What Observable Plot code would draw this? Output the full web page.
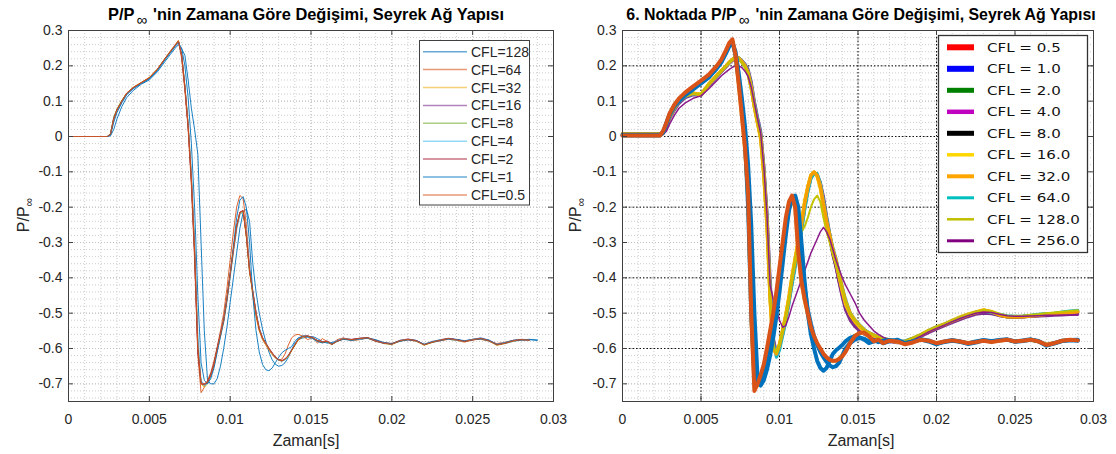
<!DOCTYPE html>
<html><head><meta charset="utf-8">
<script src="https://cdn.jsdelivr.net/npm/d3@7"></script>
<script src="https://cdn.jsdelivr.net/npm/@observablehq/plot@0.6"></script>
<style>
body{margin:0;background:#fff;}
#wrap{position:relative;width:1116px;height:454px;overflow:hidden;background:#fff;}
#left{position:absolute;left:0;top:0;width:560px;height:454px;z-index:2;}
#right{position:absolute;left:560px;top:0;width:556px;height:454px;z-index:1;}
#left svg,#right svg{overflow:visible;}
</style></head>
<body><div id="wrap"><div id="left"></div><div id="right"></div></div>
<script>
// ---------- time grid (s) ----------
const tGrid = [0,0.0024,0.0026,0.0028,0.003,0.0033,0.0036,0.004,0.0045,0.005,0.0055,0.006,0.0063,0.0066,0.0068,
0.007,0.0072,0.0074,0.0076,0.0078,0.008,0.0082,0.0084,0.0086,0.0088,
0.009,0.0092,0.0094,0.0096,0.0098,0.01,0.0102,0.0104,0.0106,0.0108,
0.011,0.0112,0.0114,0.0116,0.0118,0.012,0.0122,0.0124,0.0126,0.0128,
0.013,0.0132,0.0134,0.0136,0.0138,0.014,0.0142,
0.0145,0.0148,0.0151,0.0154,0.0157,0.016,0.0163,0.0166,
0.017,0.0175,0.018,0.0185,0.019,0.0195,0.02,0.0205,0.021,0.0215,0.022,0.0225,0.023,0.0235,0.024,0.0245,0.025,0.0255,0.026,0.0265,0.027,0.0275,0.028,0.0285,0.029];

// ---------- left panel series ----------
const pL128 = [0,0,0.002,0.02,0.05,0.085,0.11,0.13,0.148,0.16,0.183,0.214,0.232,0.25,0.26,
0.248,0.23,0.16,0.08,0.02,-0.05,-0.3,-0.55,-0.69,-0.70,
-0.70,-0.685,-0.65,-0.6,-0.54,-0.47,-0.4,-0.33,-0.26,-0.215,
-0.205,-0.24,-0.36,-0.44,-0.5,-0.545,-0.58,-0.61,-0.632,-0.645,
-0.65,-0.648,-0.64,-0.625,-0.605,-0.585,-0.575,
-0.57,-0.568,-0.566,-0.572,-0.58,-0.585,-0.583,-0.578,
-0.572,-0.576,-0.574,-0.57,-0.575,-0.583,-0.586,-0.58,-0.575,-0.577,-0.588,-0.583,-0.578,-0.572,-0.574,-0.578,-0.574,-0.57,-0.576,-0.588,-0.586,-0.58,-0.576,-0.575,-0.577];
const pL64 = [0,0,0.007,0.052,0.077,0.102,0.123,0.139,0.153,0.167,0.191,0.223,0.242,0.26,0.272,
0.22,0.13,0.02,-0.14,-0.35,-0.62,-0.725,-0.71,-0.69,-0.668,
-0.635,-0.595,-0.55,-0.5,-0.43,-0.35,-0.27,-0.2,-0.167,-0.175,
-0.25,-0.37,-0.45,-0.51,-0.55,-0.575,-0.59,-0.605,-0.617,-0.627,
-0.633,-0.63,-0.615,-0.59,-0.57,-0.562,-0.56,
-0.565,-0.575,-0.568,-0.585,-0.572,-0.58,-0.59,-0.575,
-0.57,-0.578,-0.575,-0.57,-0.58,-0.584,-0.586,-0.577,-0.575,-0.58,-0.588,-0.58,-0.578,-0.574,-0.577,-0.582,-0.575,-0.574,-0.579,-0.586,-0.582,-0.577,-0.576,-0.575,null];
const pL32 = [0,0,0.007,0.052,0.077,0.101,0.123,0.139,0.153,0.167,0.191,0.223,0.241,0.259,0.271,
0.232,0.142,0.035,-0.11,-0.31,-0.58,-0.7,-0.71,-0.7,-0.678,
-0.648,-0.605,-0.565,-0.525,-0.465,-0.395,-0.325,-0.26,-0.22,-0.213,
-0.285,-0.385,-0.445,-0.505,-0.548,-0.572,-0.588,-0.603,-0.616,-0.627,
-0.633,-0.636,-0.632,-0.622,-0.607,-0.592,-0.577,
-0.567,-0.566,-0.571,-0.579,-0.583,-0.582,-0.589,-0.58,
-0.573,-0.576,-0.573,-0.571,-0.579,-0.586,-0.589,-0.579,-0.575,-0.579,-0.591,-0.583,-0.577,-0.573,-0.577,-0.581,-0.576,-0.573,-0.579,-0.591,-0.586,-0.579,-0.576,-0.577,null];
const pL16 = [0,0,0.008,0.053,0.076,0.1,0.121,0.137,0.151,0.165,0.189,0.221,0.239,0.257,0.269,
0.228,0.138,0.028,-0.125,-0.335,-0.61,-0.695,-0.7,-0.694,-0.673,
-0.643,-0.598,-0.558,-0.518,-0.458,-0.388,-0.318,-0.253,-0.214,-0.209,
-0.278,-0.378,-0.438,-0.498,-0.543,-0.569,-0.584,-0.599,-0.612,-0.624,
-0.631,-0.634,-0.629,-0.619,-0.604,-0.589,-0.574,
-0.565,-0.564,-0.569,-0.577,-0.581,-0.579,-0.587,-0.579,
-0.571,-0.574,-0.571,-0.569,-0.577,-0.584,-0.587,-0.577,-0.573,-0.577,-0.589,-0.581,-0.575,-0.571,-0.575,-0.579,-0.574,-0.571,-0.577,-0.589,-0.584,-0.577,-0.574,-0.575,null];
const pL8 = [0,0,0.009,0.055,0.078,0.102,0.122,0.138,0.152,0.166,0.19,0.222,0.24,0.258,0.27,
0.231,0.141,0.032,-0.118,-0.325,-0.59,-0.698,-0.705,-0.697,-0.676,
-0.646,-0.602,-0.562,-0.522,-0.462,-0.392,-0.322,-0.257,-0.217,-0.211,
-0.282,-0.382,-0.442,-0.502,-0.546,-0.571,-0.586,-0.601,-0.614,-0.626,
-0.632,-0.635,-0.631,-0.621,-0.606,-0.591,-0.576,
-0.566,-0.565,-0.57,-0.578,-0.582,-0.581,-0.588,-0.58,
-0.572,-0.575,-0.572,-0.57,-0.578,-0.585,-0.588,-0.578,-0.574,-0.578,-0.59,-0.582,-0.576,-0.572,-0.576,-0.58,-0.575,-0.572,-0.578,-0.59,-0.585,-0.578,-0.575,-0.576,null];
const pL4 = [0,0,0.005,0.048,0.073,0.098,0.12,0.136,0.15,0.164,0.188,0.22,0.238,0.256,0.268,
0.232,0.145,0.04,-0.1,-0.3,-0.56,-0.69,-0.705,-0.7,-0.68,
-0.65,-0.607,-0.567,-0.527,-0.47,-0.4,-0.33,-0.265,-0.222,-0.212,
-0.27,-0.37,-0.435,-0.495,-0.54,-0.568,-0.584,-0.6,-0.614,-0.626,
-0.633,-0.636,-0.632,-0.62,-0.603,-0.587,-0.573,
-0.565,-0.566,-0.572,-0.58,-0.584,-0.581,-0.587,-0.578,
-0.571,-0.576,-0.574,-0.571,-0.579,-0.586,-0.587,-0.577,-0.575,-0.579,-0.588,-0.58,-0.575,-0.574,-0.577,-0.58,-0.574,-0.573,-0.579,-0.588,-0.583,-0.577,-0.576,-0.577,null];
const pL2 = [0,0,0.006,0.05,0.075,0.1,0.122,0.138,0.152,0.166,0.19,0.222,0.24,0.258,0.27,
0.23,0.139,0.029,-0.122,-0.328,-0.6,-0.7,-0.702,-0.696,-0.675,
-0.645,-0.6,-0.56,-0.52,-0.46,-0.39,-0.32,-0.255,-0.215,-0.21,
-0.28,-0.38,-0.44,-0.5,-0.545,-0.57,-0.585,-0.6,-0.613,-0.625,
-0.632,-0.635,-0.63,-0.62,-0.605,-0.59,-0.575,
-0.566,-0.565,-0.57,-0.578,-0.582,-0.58,-0.588,-0.58,
-0.573,-0.575,-0.571,-0.57,-0.579,-0.585,-0.587,-0.578,-0.575,-0.578,-0.589,-0.582,-0.577,-0.572,-0.575,-0.58,-0.576,-0.572,-0.578,-0.589,-0.585,-0.578,-0.575,-0.576,null];
const pL1 = [0,0,0.004,0.04,0.068,0.095,0.118,0.135,0.15,0.163,0.187,0.219,0.237,0.255,0.265,
0.25,0.2,0.11,-0.02,-0.2,-0.45,-0.64,-0.69,-0.70,-0.685,
-0.655,-0.61,-0.565,-0.52,-0.46,-0.39,-0.31,-0.23,-0.18,-0.17,
-0.2,-0.3,-0.45,-0.55,-0.61,-0.645,-0.66,-0.663,-0.655,-0.64,
-0.625,-0.612,-0.605,-0.6,-0.595,-0.58,-0.57,
-0.565,-0.566,-0.572,-0.58,-0.584,-0.582,-0.587,-0.58,
-0.574,-0.577,-0.573,-0.571,-0.577,-0.584,-0.587,-0.579,-0.575,-0.578,-0.589,-0.581,-0.577,-0.573,-0.575,-0.579,-0.575,-0.573,-0.577,-0.589,-0.584,-0.577,-0.576,-0.574,-0.576];
const pL05 = [0,0,0.006,0.05,0.075,0.1,0.122,0.138,0.152,0.166,0.19,0.222,0.24,0.258,0.27,
0.23,0.14,0.03,-0.12,-0.32,-0.6,-0.7,-0.70,-0.695,-0.675,
-0.645,-0.6,-0.56,-0.52,-0.46,-0.39,-0.32,-0.255,-0.215,-0.21,
-0.28,-0.38,-0.44,-0.5,-0.545,-0.57,-0.585,-0.6,-0.613,-0.625,
-0.632,-0.635,-0.63,-0.62,-0.605,-0.59,-0.575,
-0.566,-0.565,-0.57,-0.578,-0.582,-0.58,-0.588,-0.58,
-0.572,-0.575,-0.572,-0.57,-0.578,-0.585,-0.588,-0.578,-0.574,-0.578,-0.59,-0.582,-0.576,-0.572,-0.576,-0.58,-0.575,-0.572,-0.578,-0.59,-0.585,-0.578,-0.575,-0.576,null];

const leftNames = ["CFL=128","CFL=64","CFL=32","CFL=16","CFL=8","CFL=4","CFL=2","CFL=1","CFL=0.5"];
const leftColors = ["#0072BD","#D95319","#EDB120","#7E2F8E","#77AC30","#4DBEEE","#A2142F","#0072BD","#D95319"];
const leftValues = [pL128,pL64,pL32,pL16,pL8,pL4,pL2,pL1,pL05];

// ---------- right panel series ----------
// slow group
const rBdark = [0.008,0.008,0.01,0.03,0.055,0.079,0.099,0.114,0.121,0.118,0.147,0.171,0.185,0.199,0.209,
0.217,0.223,0.222,0.213,0.201,0.182,0.143,0.09,0.045,0.005,
-0.095,-0.235,-0.44,-0.59,-0.612,-0.59,-0.552,-0.512,-0.462,-0.405,
-0.355,-0.305,-0.255,-0.195,-0.15,-0.115,-0.104,-0.11,-0.135,-0.18,
-0.24,-0.29,-0.335,-0.37,-0.41,-0.45,-0.48,
-0.512,-0.53,-0.544,-0.555,-0.562,-0.567,-0.572,-0.576,
-0.578,-0.582,-0.582,-0.574,-0.564,-0.552,-0.542,-0.533,-0.523,-0.514,-0.506,-0.499,-0.494,-0.498,-0.506,-0.511,-0.512,-0.511,-0.509,-0.507,-0.505,-0.504,-0.502,-0.5,-0.499];
const rBpurple = [0.006,0.006,0.008,0.025,0.05,0.074,0.094,0.11,0.118,0.116,0.144,0.168,0.183,0.197,0.207,
0.215,0.221,0.222,0.215,0.205,0.19,0.155,0.1,0.055,0.015,
-0.08,-0.21,-0.4,-0.57,-0.61,-0.595,-0.56,-0.52,-0.47,-0.415,
-0.365,-0.315,-0.265,-0.205,-0.155,-0.118,-0.105,-0.108,-0.13,-0.17,
-0.225,-0.275,-0.325,-0.37,-0.415,-0.455,-0.49,
-0.52,-0.538,-0.55,-0.56,-0.565,-0.57,-0.575,-0.578,
-0.58,-0.584,-0.583,-0.576,-0.566,-0.555,-0.545,-0.536,-0.527,-0.518,-0.51,-0.503,-0.5,-0.502,-0.507,-0.51,-0.511,-0.51,-0.509,-0.508,-0.507,-0.506,-0.505,-0.504,-0.503];
const rBgreen = [0.008,0.008,0.012,0.035,0.058,0.082,0.102,0.116,0.122,0.119,0.149,0.172,0.186,0.2,0.21,
0.218,0.224,0.221,0.21,0.197,0.176,0.134,0.082,0.038,-0.005,
-0.11,-0.25,-0.46,-0.6,-0.612,-0.588,-0.548,-0.505,-0.455,-0.395,
-0.345,-0.295,-0.245,-0.185,-0.142,-0.11,-0.102,-0.112,-0.145,-0.195,
-0.245,-0.285,-0.325,-0.355,-0.395,-0.435,-0.47,
-0.503,-0.522,-0.537,-0.55,-0.557,-0.563,-0.569,-0.573,
-0.577,-0.581,-0.58,-0.571,-0.561,-0.55,-0.54,-0.531,-0.521,-0.512,-0.504,-0.497,-0.491,-0.497,-0.505,-0.51,-0.51,-0.509,-0.507,-0.505,-0.502,-0.501,-0.499,-0.497,-0.495];
const rBgold = [0.008,0.008,0.011,0.032,0.057,0.082,0.101,0.116,0.123,0.12,0.15,0.173,0.187,0.201,0.211,
0.219,0.225,0.223,0.213,0.2,0.178,0.136,0.08,0.035,-0.01,
-0.12,-0.26,-0.47,-0.605,-0.612,-0.585,-0.545,-0.5,-0.45,-0.39,
-0.34,-0.29,-0.24,-0.18,-0.14,-0.108,-0.102,-0.115,-0.15,-0.2,
-0.25,-0.29,-0.33,-0.36,-0.4,-0.44,-0.475,
-0.505,-0.525,-0.54,-0.552,-0.559,-0.565,-0.57,-0.574,
-0.578,-0.582,-0.58,-0.57,-0.56,-0.548,-0.538,-0.53,-0.52,-0.51,-0.502,-0.496,-0.49,-0.495,-0.503,-0.508,-0.509,-0.508,-0.506,-0.504,-0.501,-0.5,-0.498,-0.496,-0.494];
const rBcyan = [0.008,0.008,0.01,0.03,0.054,0.078,0.098,0.113,0.12,0.117,0.146,0.17,0.185,0.199,0.209,
0.217,0.223,0.223,0.214,0.203,0.185,0.148,0.095,0.05,0.01,
-0.085,-0.22,-0.42,-0.58,-0.625,-0.605,-0.565,-0.525,-0.475,-0.42,
-0.37,-0.32,-0.27,-0.21,-0.16,-0.12,-0.105,-0.105,-0.13,-0.18,
-0.23,-0.275,-0.315,-0.345,-0.385,-0.425,-0.46,
-0.498,-0.518,-0.533,-0.546,-0.555,-0.561,-0.567,-0.571,
-0.575,-0.579,-0.578,-0.571,-0.561,-0.549,-0.539,-0.531,-0.521,-0.512,-0.504,-0.497,-0.494,-0.498,-0.503,-0.507,-0.509,-0.508,-0.506,-0.503,-0.501,-0.5,-0.497,-0.494,-0.492];
const rBorange = [0.008,0.008,0.01,0.03,0.055,0.08,0.1,0.115,0.122,0.118,0.148,0.172,0.186,0.2,0.21,
0.218,0.224,0.222,0.212,0.2,0.18,0.14,0.085,0.04,0.0,
-0.1,-0.24,-0.45,-0.6,-0.615,-0.59,-0.55,-0.51,-0.46,-0.4,
-0.35,-0.3,-0.25,-0.19,-0.145,-0.11,-0.1,-0.11,-0.14,-0.19,
-0.24,-0.28,-0.32,-0.35,-0.39,-0.43,-0.465,
-0.5,-0.52,-0.535,-0.548,-0.556,-0.562,-0.568,-0.572,
-0.576,-0.58,-0.58,-0.572,-0.562,-0.55,-0.54,-0.532,-0.522,-0.513,-0.505,-0.498,-0.492,-0.496,-0.505,-0.51,-0.511,-0.51,-0.508,-0.506,-0.503,-0.502,-0.5,-0.498,-0.496];
const rBolive = [0.008,0.008,0.01,0.03,0.055,0.08,0.1,0.115,0.122,0.12,0.149,0.172,0.186,0.2,0.21,
0.218,0.223,0.22,0.21,0.197,0.177,0.137,0.085,0.04,0.0,
-0.1,-0.24,-0.45,-0.595,-0.612,-0.59,-0.55,-0.51,-0.46,-0.4,
-0.35,-0.3,-0.27,-0.255,-0.23,-0.2,-0.178,-0.167,-0.185,-0.23,
-0.27,-0.3,-0.33,-0.36,-0.395,-0.43,-0.465,
-0.5,-0.52,-0.535,-0.548,-0.556,-0.562,-0.568,-0.572,
-0.576,-0.58,-0.579,-0.571,-0.561,-0.549,-0.539,-0.531,-0.521,-0.512,-0.504,-0.497,-0.491,-0.494,-0.502,-0.507,-0.508,-0.507,-0.505,-0.503,-0.5,-0.498,-0.496,-0.494,-0.492];
const rBthin = [0.006,0.006,0.007,0.015,0.035,0.06,0.08,0.095,0.108,0.115,0.135,0.158,0.172,0.183,0.19,
0.196,0.2,0.2,0.195,0.185,0.17,0.14,0.095,0.05,0.01,
-0.085,-0.22,-0.42,-0.46,-0.49,-0.52,-0.54,-0.535,-0.51,-0.48,
-0.455,-0.43,-0.405,-0.38,-0.355,-0.33,-0.31,-0.29,-0.27,-0.257,
-0.27,-0.29,-0.32,-0.35,-0.375,-0.4,-0.42,
-0.445,-0.47,-0.5,-0.52,-0.535,-0.55,-0.56,-0.568,
-0.576,-0.582,-0.584,-0.576,-0.565,-0.553,-0.543,-0.534,-0.524,-0.515,-0.507,-0.5,-0.497,-0.498,-0.503,-0.507,-0.509,-0.509,-0.508,-0.507,-0.506,-0.506,-0.505,-0.505,-0.505];
// fast group
const rAyellow = [0.003,0.003,0.015,0.038,0.063,0.088,0.106,0.123,0.14,0.156,0.173,0.198,0.216,0.243,0.263,
0.272,0.225,0.145,0.055,-0.04,-0.18,-0.52,-0.71,-0.705,-0.68,
-0.65,-0.605,-0.555,-0.505,-0.445,-0.375,-0.305,-0.24,-0.19,-0.172,
-0.205,-0.335,-0.415,-0.465,-0.505,-0.543,-0.567,-0.587,-0.602,-0.617,
-0.627,-0.633,-0.636,-0.634,-0.628,-0.618,-0.605,
-0.58,-0.563,-0.557,-0.557,-0.567,-0.579,-0.576,-0.583,
-0.579,-0.581,-0.586,-0.581,-0.576,-0.579,-0.584,-0.581,-0.578,-0.58,-0.584,-0.581,-0.578,-0.581,-0.578,-0.576,-0.58,-0.578,-0.576,-0.58,-0.588,-0.584,-0.578,-0.576,-0.577];
const rAblue1 = [0.003,0.003,0.012,0.035,0.06,0.085,0.1,0.117,0.133,0.15,0.167,0.192,0.21,0.236,0.255,
0.265,0.24,0.18,0.11,0.03,-0.08,-0.25,-0.5,-0.68,-0.705,
-0.69,-0.66,-0.62,-0.57,-0.51,-0.44,-0.36,-0.28,-0.21,-0.175,
-0.167,-0.2,-0.3,-0.41,-0.5,-0.56,-0.6,-0.635,-0.655,-0.663,
-0.655,-0.635,-0.615,-0.605,-0.598,-0.59,-0.58,
-0.57,-0.565,-0.568,-0.575,-0.585,-0.58,-0.577,-0.585,
-0.58,-0.575,-0.585,-0.58,-0.575,-0.58,-0.588,-0.58,-0.576,-0.58,-0.586,-0.58,-0.576,-0.58,-0.576,-0.574,-0.58,-0.577,-0.574,-0.58,-0.592,-0.585,-0.578,-0.576,-0.575];
const rAblue2 = [0.005,0.005,0.014,0.04,0.063,0.088,0.104,0.12,0.136,0.152,0.168,0.194,0.213,0.24,0.258,
0.268,0.23,0.16,0.08,-0.01,-0.2,-0.5,-0.68,-0.70,-0.69,
-0.665,-0.625,-0.58,-0.53,-0.47,-0.4,-0.33,-0.26,-0.2,-0.178,
-0.19,-0.26,-0.36,-0.43,-0.49,-0.53,-0.565,-0.59,-0.61,-0.625,
-0.638,-0.648,-0.653,-0.65,-0.64,-0.62,-0.6,
-0.585,-0.575,-0.57,-0.572,-0.58,-0.576,-0.582,-0.578,
-0.576,-0.579,-0.584,-0.58,-0.574,-0.577,-0.586,-0.582,-0.578,-0.581,-0.587,-0.583,-0.577,-0.579,-0.577,-0.575,-0.581,-0.579,-0.575,-0.579,-0.591,-0.586,-0.579,-0.577,-0.578];
const rAorange = [0.003,0.003,0.017,0.04,0.065,0.09,0.108,0.125,0.142,0.158,0.175,0.2,0.218,0.245,0.265,
0.275,0.23,0.15,0.06,-0.03,-0.16,-0.5,-0.72,-0.70,-0.675,
-0.645,-0.6,-0.55,-0.5,-0.44,-0.37,-0.3,-0.23,-0.185,-0.167,
-0.2,-0.33,-0.41,-0.46,-0.5,-0.54,-0.565,-0.585,-0.6,-0.615,
-0.625,-0.632,-0.635,-0.635,-0.63,-0.622,-0.61,
-0.585,-0.565,-0.556,-0.555,-0.565,-0.58,-0.575,-0.585,
-0.578,-0.58,-0.588,-0.583,-0.575,-0.578,-0.585,-0.58,-0.577,-0.58,-0.585,-0.582,-0.578,-0.582,-0.578,-0.575,-0.58,-0.578,-0.575,-0.58,-0.59,-0.585,-0.578,-0.575,-0.577];

const rightSeries = [
  {v: rBdark, c: "#3c0f40", w: 3},
  {v: rBpurple, c: "#7E2F8E", w: 3},
  {v: rBgreen, c: "#77AC30", w: 3},
  {v: rBgold, c: "#FFD000", w: 3},
  {v: rBcyan, c: "#1CB6C2", w: 3},
  {v: rBorange, c: "#F5A000", w: 3.5},
  {v: rBolive, c: "#C3C300", w: 2},
  {v: rBthin, c: "#8B1A8B", w: 1.5},
  {v: rAyellow, c: "#EDB120", w: 3.5},
  {v: rAblue1, c: "#0072BD", w: 4},
  {v: rAblue2, c: "#0072BD", w: 4},
  {v: rAorange, c: "#D95319", w: 4}
];

const rightLegendNames = ["CFL = 0.5","CFL = 1.0","CFL = 2.0","CFL = 4.0","CFL = 8.0","CFL = 16.0","CFL = 32.0","CFL = 64.0","CFL = 128.0","CFL = 256.0"];
const rightLegendColors = ["#FF0000","#0000FF","#008000","#BF00BF","#000000","#FFD700","#FFA500","#00BFBF","#BFBF00","#800080"];
const rightLegendWidths = [6,6,5,4.5,5,3.5,4,3,2.5,3];

// ---------- axes ----------
const xTicks = [0,0.005,0.01,0.015,0.02,0.025,0.03];
const xTickLabels = ["0","0.005","0.01","0.015","0.02","0.025","0.03"];
const yTicks = [0.3,0.2,0.1,0,-0.1,-0.2,-0.3,-0.4,-0.5,-0.6,-0.7];
const yTickLabels = ["0.3","0.2","0.1","0","-0.1","-0.2","-0.3","-0.4","-0.5","-0.6","-0.7"];
const darkGridX = [0.005,0.01,0.015,0.02];
const darkGridY = [0.2,0,-0.2,-0.4,-0.6];

const H = 454, MT = 30, MB = 53;
const minorX = d3.range(1, 30).map(i => i / 1000);
const minorY = d3.range(-37, 15).map(i => i / 50);

function rows(vals) {
  return tGrid.map((t, i) => ({t, p: vals[i]})).filter(d => d.p != null && d.p !== undefined);
}

function panel(width, mL, mR, lines, dark) {
  const innerH = H - MT - MB, innerW = width - mL - mR;
  const xl = new Map(xTicks.map((v, i) => [v, xTickLabels[i]]));
  const yl = new Map(yTicks.map((v, i) => [v, yTickLabels[i]]));
  const marks = [
    Plot.ruleX(minorX, {stroke: "#cdcdcd", strokeDasharray: "1,2"}),
    Plot.ruleY(minorY, {stroke: "#cdcdcd", strokeDasharray: "1,2"}),
    Plot.ruleX(xTicks, {stroke: "#c0c0c0", strokeDasharray: "1,2"}),
    Plot.ruleY(yTicks, {stroke: "#c0c0c0", strokeDasharray: "1,2"})
  ];
  if (dark) {
    marks.push(
      Plot.ruleX(darkGridX, {stroke: "#111", strokeDasharray: "1.5,2"}),
      Plot.ruleY(darkGridY, {stroke: "#111", strokeDasharray: "1.5,2"})
    );
  }
  for (const s of lines) {
    marks.push(Plot.line(rows(s.v), {x: "t", y: "p", stroke: s.c, strokeWidth: s.w, strokeOpacity: s.o ?? 1, strokeLinejoin: "round", strokeLinecap: "round"}));
  }
  marks.push(
    Plot.frame({stroke: "#404040"}),
    Plot.tickX(xTicks, {x: d => d, insetTop: innerH - 5, stroke: "#404040"}),
    Plot.tickX(xTicks, {x: d => d, insetBottom: innerH - 5, stroke: "#404040"}),
    Plot.tickY(yTicks, {y: d => d, insetRight: innerW - 5, stroke: "#404040"}),
    Plot.tickY(yTicks, {y: d => d, insetLeft: innerW - 5, stroke: "#404040"}),
    Plot.axisX(xTicks, {tickSize: 0, tickPadding: 13, tickFormat: d => xl.get(d), label: null}),
    Plot.axisY(yTicks, {tickSize: 0, tickPadding: 6, tickFormat: d => yl.get(d), label: null})
  );
  return Plot.plot({
    width, height: H, marginLeft: mL, marginRight: mR, marginTop: MT, marginBottom: MB,
    x: {domain: [0, 0.03]}, y: {domain: [-0.75, 0.3]},
    style: {fontFamily: "'Liberation Sans', Arial, sans-serif", fontSize: "14px", color: "#262626", background: "transparent", overflow: "visible"},
    marks
  });
}

function decorate(svgNode, cx, titlePre, titleSize, ylx) {
  const svg = d3.select(svgNode);
  const t = svg.append("text").attr("x", cx).attr("y", 20).attr("text-anchor", "middle")
    .attr("font-weight", "bold").attr("font-size", titleSize + "px").attr("fill", "#000");
  t.append("tspan").text(titlePre + "P/P");
  t.append("tspan").attr("dy", 5).attr("dx", 2).attr("font-size", "15px").attr("font-weight", "normal").text("∞");
  t.append("tspan").attr("dy", -5).attr("dx", 6).text("'nin Zamana Göre Değişimi, Seyrek Ağ Yapısı");
  const yl = svg.append("text").attr("transform", `translate(${ylx},215) rotate(-90)`)
    .attr("text-anchor", "middle").attr("font-size", "16px").attr("fill", "#262626");
  yl.append("tspan").text("P/P");
  yl.append("tspan").attr("dy", 4).attr("font-size", "12px").text("∞");
  svg.append("text").attr("x", cx).attr("y", 446).attr("text-anchor", "middle")
    .attr("font-size", "16px").attr("fill", "#262626").text("Zaman[s]");
  return svg;
}

// Left
const leftLines = leftValues.map((v, i) => ({v, c: leftColors[i], w: 1, o: 0.9}));
const leftSvg = panel(560, 68, 7, leftLines, false);
document.getElementById("left").appendChild(leftSvg);
const ls = decorate(leftSvg, 306, "", 16.4, 29);
{
  const g = ls.append("g").attr("text-anchor", "start");
  g.append("rect").attr("x", 419.5).attr("y", 40.5).attr("width", 110).attr("height", 164.5)
    .attr("fill", "white").attr("stroke", "#404040").attr("stroke-width", 1);
  leftNames.forEach((n, i) => {
    const y = 51.7 + i * 17.9;
    g.append("line").attr("x1", 423).attr("x2", 467).attr("y1", y).attr("y2", y)
      .attr("stroke", leftColors[i]).attr("stroke-width", 1.5).attr("stroke-opacity", 0.6);
    g.append("text").attr("x", 471).attr("y", y).attr("dy", "0.36em").attr("font-size", "14px")
      .attr("text-anchor", "start").attr("fill", "#262626").text(n);
  });
}

// Right
const rightSvg = panel(556, 62, 23, rightSeries, true);
document.getElementById("right").appendChild(rightSvg);
const rs = decorate(rightSvg, 301, "6. Noktada ", 15.9, 21);
{
  const g = rs.append("g").attr("text-anchor", "start");
  g.append("rect").attr("x", 378.5).attr("y", 35.5).attr("width", 149).attr("height", 217)
    .attr("fill", "white").attr("stroke", "#333").attr("stroke-width", 1.3);
  rightLegendNames.forEach((n, i) => {
    const y = 47.3 + i * 21.5;
    g.append("line").attr("x1", 387).attr("x2", 414).attr("y1", y).attr("y2", y)
      .attr("stroke", rightLegendColors[i]).attr("stroke-width", rightLegendWidths[i]);
    g.append("text").attr("transform", `translate(427,${y}) scale(1.16,1)`).attr("dy", "0.36em")
      .attr("text-anchor", "start")
      .attr("font-family", "'DejaVu Sans', sans-serif").attr("font-size", "13px")
      .attr("fill", "#111").text(n);
  });
}
</script>
</body></html>
